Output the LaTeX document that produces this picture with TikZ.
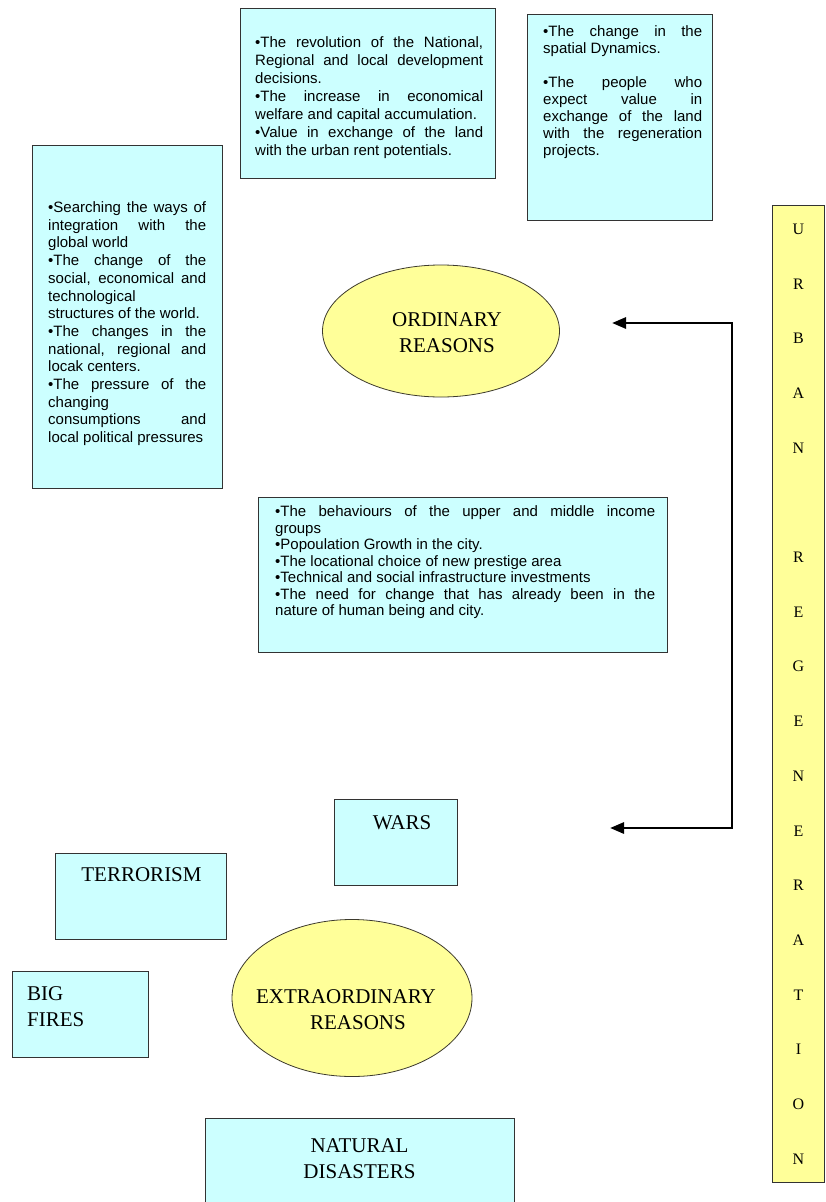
\documentclass[tikz,border=0pt]{standalone}
\usepackage{fontspec}
\setmainfont{Liberation Serif}
\newfontfamily\arialf{Liberation Sans}
\usetikzlibrary{arrows.meta,shapes.geometric,calc}
\definecolor{boxcyan}{HTML}{CCFFFF}
\definecolor{ovalyellow}{HTML}{FFFF99}
\definecolor{edgegray}{HTML}{333333}
\newcommand\JL[2]{\makebox[#1][s]{#2}}
\begin{document}
\begin{tikzpicture}[x=1pt,y=-1pt,
  panel/.style={draw=edgegray, line width=1pt, fill=boxcyan, rectangle, inner sep=0pt, anchor=north west},
  urbanbox/.style={draw=edgegray, line width=1pt, fill=ovalyellow, rectangle, inner sep=0pt, anchor=north west, align=center, font=\fontsize{16}{54.7}\selectfont},
  oval/.style={draw=black!75!olive, line width=0.8pt, fill=ovalyellow, ellipse, inner sep=0pt},
  smalltext/.style={font=\arialf\fontsize{15}{#1}\selectfont, align=left, inner sep=0pt, anchor=north west},
  bigtext/.style={font=\fontsize{21}{26}\selectfont, align=center, inner sep=0pt},
  flow/.style={line width=2.8pt, line join=miter, {Triangle[length=14pt,width=11pt]}-{Triangle[length=14pt,width=11pt]}},
]
\fill[white] (0,0) rectangle (826,1202);
\useasboundingbox (0,0) rectangle (826,1202);

% boxes
\node[panel, minimum width=255pt, minimum height=170pt] (b1) at (240,8) {};
\node[panel, minimum width=185pt, minimum height=206pt] (b2) at (527,14) {};
\node[panel, minimum width=190pt, minimum height=343pt] (b3) at (32,145) {};
\node[panel, minimum width=409pt, minimum height=155pt] (b4) at (258,497) {};
\node[panel, minimum width=123pt, minimum height=86pt] (wars) at (334,799) {};
\node[panel, minimum width=171pt, minimum height=86pt] (terror) at (55,853) {};
\node[panel, minimum width=136pt, minimum height=86pt] (fires) at (12,971) {};
\begin{scope}
\clip (0,0) rectangle (826,1202);
\node[panel, minimum width=309pt, minimum height=110pt] (natural) at (205,1118) {};
\end{scope}

% ellipses
\node[oval, minimum width=237pt, minimum height=132pt] (ord) at (441,331) {};
\node[oval, minimum width=240pt, minimum height=157pt] (ext) at (352,998) {};

% texts of the boxes
\node[smalltext=18] (t1) at (255,36.5) {%
\JL{228pt}{•The revolution of the National,}\\
\JL{228pt}{Regional and local development}\\
decisions.\\
\JL{228pt}{•The increase in economical}\\
welfare and capital accumulation.\\
\JL{228pt}{•Value in exchange of the land}\\
with the urban rent potentials.};

\node[smalltext=17] (t2) at (543,25.5) {%
\JL{159pt}{•The change in the}\\
spatial Dynamics.\\
\mbox{}\\
\JL{159pt}{•The people who}\\
\JL{159pt}{expect value in}\\
\JL{159pt}{exchange of the land}\\
\JL{159pt}{with the regeneration}\\
projects.};

\node[smalltext=17.7] (t3) at (48,201.5) {%
\JL{158pt}{•Searching the ways of}\\
\JL{158pt}{integration with the}\\
global world\\
\JL{158pt}{•The change of the}\\
\JL{158pt}{social, economical and}\\
technological\\
structures of the world.\\
\JL{158pt}{•The changes in the}\\
\JL{158pt}{national, regional and}\\
locak centers.\\
\JL{158pt}{•The pressure of the}\\
changing\\
\JL{158pt}{consumptions and}\\
local political pressures};

\node[smalltext=16.5] (t4) at (275,505.5) {%
\JL{380pt}{•The behaviours of the upper and middle income}\\
groups\\
•Popoulation Growth in the city.\\
•The locational choice of new prestige area\\
•Technical and social infrastructure investments\\
\JL{380pt}{•The need for change that has already been in the}\\
nature of human being and city.};

% big labels
\node[bigtext] (tord) at (447,333) {ORDINARY\\REASONS};
\node[bigtext] (text) at (346,1010) {EXTRAORDINARY\\\hspace*{24pt}REASONS};
\node[bigtext] (twars) at (402,823) {WARS};
\node[bigtext] (tterror) at (141.5,875) {TERRORISM};
\node[bigtext, align=left, anchor=west] (tfires) at (27,1006.5) {BIG\\FIRES};
\node[bigtext] (tnatural) at (359.5,1158.5) {NATURAL\\DISASTERS};

% urban regeneration column
\node[urbanbox, minimum width=52pt, minimum height=977pt] (urban) at (772,205)
  {U\\R\\B\\A\\N\\\mbox{}\\R\\E\\G\\E\\N\\E\\R\\A\\T\\I\\O\\N};

% connector
\coordinate (armT) at (732,323);
\coordinate (armB) at (732,828);
\coordinate (tipO) at (612,323);
\coordinate (tipE) at (610,828);
\draw[flow] (tipO) -- (armT) -- (armB) -- (tipE);
\end{tikzpicture}
\end{document}
